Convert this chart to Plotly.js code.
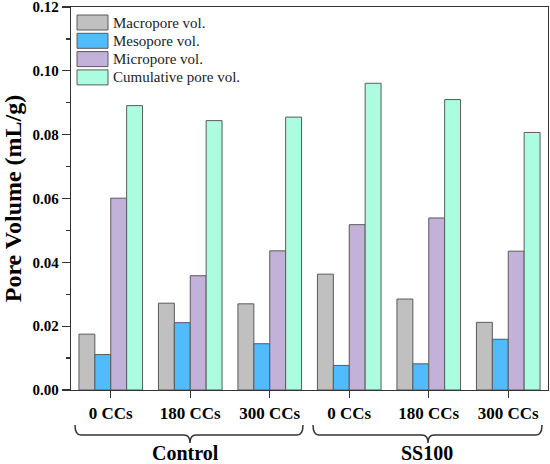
<!DOCTYPE html>
<html>
<head>
<meta charset="utf-8">
<script src="https://cdn.plot.ly/plotly-3.0.1.min.js"></script>
<style>html,body{margin:0;padding:0;background:#fff;}#chart{width:550px;height:464px;}</style>
</head>
<body>
<div id="chart"></div>
<script>
// ---- data ----
const xIndex = [0, 1, 2, 3, 4, 5];
const tickLabels = ['0 CCs', '180 CCs', '300 CCs', '0 CCs', '180 CCs', '300 CCs'];
const groupLabels = ['Control', 'SS100'];
const seriesNames = ['Macropore vol.', 'Mesopore vol.', 'Micropore vol.', 'Cumulative pore vol.'];
const yTicks = [0, 0.02, 0.04, 0.06, 0.08, 0.10, 0.12];
const yTickText = ['0.00', '0.02', '0.04', '0.06', '0.08', '0.10', '0.12'];
const macro = [0.0175, 0.0272, 0.0270, 0.0363, 0.0285, 0.0212];
const meso  = [0.0111, 0.0211, 0.0145, 0.0077, 0.0082, 0.0159];
const micro = [0.0601, 0.0358, 0.0436, 0.0518, 0.0539, 0.0435];
const cum   = [0.0891, 0.0844, 0.0855, 0.0961, 0.0910, 0.0807];
const colors = ['#c0c0c0', '#50bcfe', '#c2b1d8', '#acfce0'];

// ---- layout geometry (pixels) ----
const W = 550, H = 464;
const M = {l: 71, r: 2, t: 7, b: 74};
const PW = W - M.l - M.r, PH = H - M.t - M.b;
const px2x = p => (p - M.l) / PW;
const py2y = p => (H - M.b - p) / PH;

const serif = "'Liberation Serif', 'Times New Roman', serif";
const values = [macro, meso, micro, cum];
const traces = values.map((v, i) => ({
  type: 'bar', x: xIndex, y: v, name: seriesNames[i],
  marker: {color: colors[i], line: {color: '#5a5a5a', width: 1}},
  showlegend: false, hoverinfo: 'y'
}));

const shapes = [], annotations = [];
// manual legend
seriesNames.forEach((n, i) => {
  const top = 15 + i * 18.3;
  shapes.push({type: 'rect', xref: 'paper', yref: 'paper',
    x0: px2x(77), x1: px2x(108), y0: py2y(top), y1: py2y(top + 15),
    fillcolor: colors[i], line: {color: '#5a5a5a', width: 1}});
  annotations.push({xref: 'paper', yref: 'paper', x: px2x(111), y: py2y(top + 7.5),
    xanchor: 'left', yanchor: 'middle', showarrow: false, text: n,
    font: {family: serif, size: 15, color: '#222'}});
});

// curly braces under the groups
function brace(x0, x1, xc) {
  const yt = 425, ym = 435, yb = 443, r = 6;
  const P = (x, y) => px2x(x).toFixed(5) + ',' + py2y(y).toFixed(5);
  return 'M' + P(x0, yt) + ' Q' + P(x0, ym) + ' ' + P(x0 + r, ym) +
    ' L' + P(xc - r, ym) + ' Q' + P(xc, ym) + ' ' + P(xc, yb) +
    ' Q' + P(xc, ym) + ' ' + P(xc + r, ym) +
    ' L' + P(x1 - r, ym) + ' Q' + P(x1, ym) + ' ' + P(x1, yt);
}
const braces = [[75, 303, 190], [313, 542, 428]];
braces.forEach((b, i) => {
  shapes.push({type: 'path', xref: 'paper', yref: 'paper', path: brace(b[0], b[1], b[2]),
    line: {color: '#333', width: 1.5}});
  annotations.push({xref: 'paper', yref: 'paper', x: px2x(i === 0 ? 185 : 427), y: py2y(453),
    xanchor: 'center', yanchor: 'middle', showarrow: false, text: groupLabels[i],
    font: {family: serif, size: 20, color: '#000', weight: 'bold'}});
});

const layout = {
  width: W, height: H, margin: M,
  paper_bgcolor: '#fff', plot_bgcolor: '#fff',
  barmode: 'group', bargap: 0.2, bargroupgap: 0,
  showlegend: false,
  xaxis: {
    range: [-0.5, 5.5], tickmode: 'array', tickvals: xIndex, ticktext: tickLabels,
    showline: true, mirror: true, linecolor: '#333', linewidth: 1.3,
    ticks: 'outside', ticklen: 7, tickcolor: '#333', tickwidth: 1.3,
    showgrid: false, zeroline: false, fixedrange: true,
    tickfont: {family: serif, size: 17, color: '#000', weight: 'bold'}
  },
  yaxis: {
    range: [0, 0.12], tickmode: 'array', tickvals: yTicks, ticktext: yTickText,
    ticklabeloverflow: 'allow',
    showline: true, mirror: true, linecolor: '#333', linewidth: 1.3,
    ticks: 'outside', ticklen: 8, tickcolor: '#333', tickwidth: 1.3,
    minor: {tickmode: 'array', tickvals: [0.01, 0.03, 0.05, 0.07, 0.09, 0.11], ticks: 'outside', ticklen: 4, tickcolor: '#333', tickwidth: 1.2, showgrid: false},
    showgrid: false, zeroline: false, fixedrange: true,
    tickfont: {family: serif, size: 15, color: '#000', weight: 'bold'},
    title: {text: 'Pore Volume (mL/g)', standoff: 9,
      font: {family: serif, size: 24, color: '#000', weight: 'bold'}}
  },
  shapes: shapes, annotations: annotations
};

Plotly.newPlot('chart', traces, layout, {displayModeBar: false, staticPlot: true});
</script>
</body>
</html>
